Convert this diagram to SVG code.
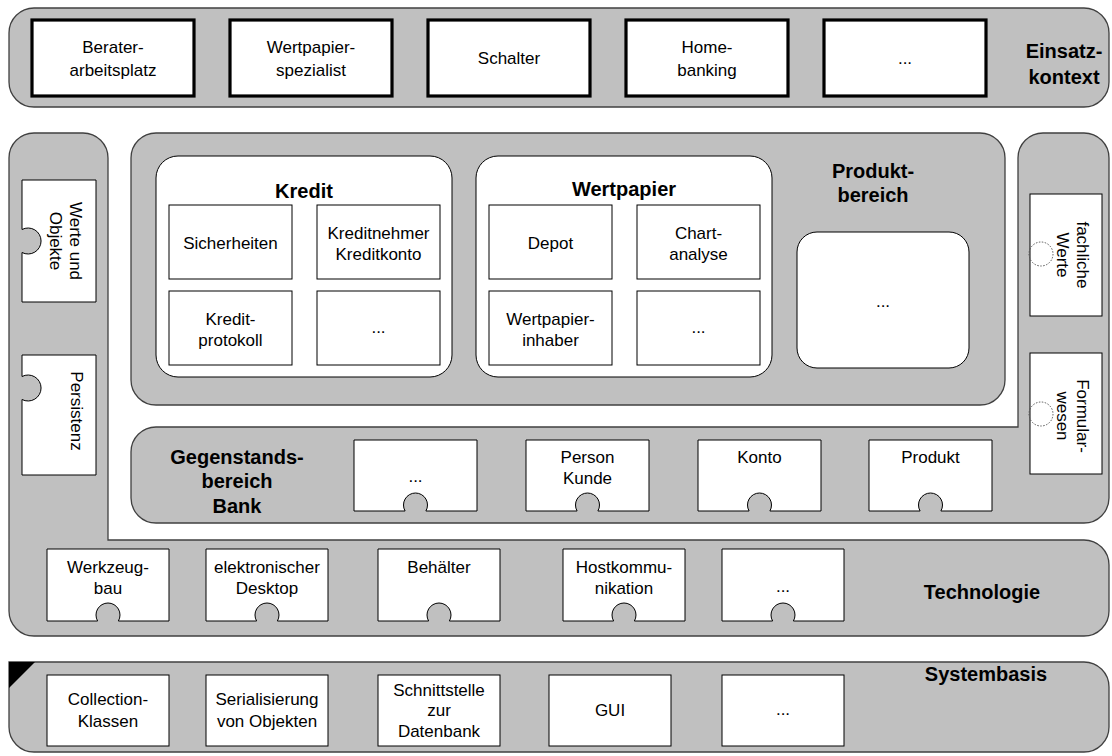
<svg xmlns="http://www.w3.org/2000/svg" width="1112" height="756" viewBox="0 0 1112 756">
  <defs>
    <style>
      .band { fill: #c0c0c0; stroke: #404040; stroke-width: 1.3; }
      .box { fill: #ffffff; stroke: #000000; stroke-width: 1; }
      .thick { fill: #ffffff; stroke: #000000; stroke-width: 3.2; }
      .group { fill: #ffffff; stroke: #000000; stroke-width: 1; }
      .dot { fill: none; stroke: #555555; stroke-width: 1; stroke-dasharray: 1.5 1.5; }
      text { font-family: "Liberation Sans", Arial, sans-serif; fill: #000000; }
      .t { font-size: 17px; text-anchor: middle; }
      .b { font-size: 20px; font-weight: bold; text-anchor: middle; }
    </style>
  </defs>

  <rect width="1112" height="756" fill="#ffffff"/>

  <!-- Einsatzkontext layer -->
  <g id="einsatzkontext">
    <rect class="band" x="9" y="8" width="1100" height="99" rx="25" ry="25"/>
    <text class="b" x="1064" y="58">Einsatz-</text>
    <text class="b" x="1064" y="84">kontext</text>
  </g>
  <g id="beraterarbeitsplatz">
    <rect class="thick" x="32" y="20" width="162" height="76"/>
    <text class="t" x="113" y="53">Berater-</text>
    <text class="t" x="113" y="76">arbeitsplatz</text>
  </g>
  <g id="wertpapierspezialist">
    <rect class="thick" x="230" y="20" width="162" height="76"/>
    <text class="t" x="311" y="53">Wertpapier-</text>
    <text class="t" x="311" y="76">spezialist</text>
  </g>
  <g id="schalter">
    <rect class="thick" x="428" y="20" width="162" height="76"/>
    <text class="t" x="509" y="64">Schalter</text>
  </g>
  <g id="homebanking">
    <rect class="thick" x="626" y="20" width="162" height="76"/>
    <text class="t" x="707" y="53">Home-</text>
    <text class="t" x="707" y="76">banking</text>
  </g>
  <g id="einsatz-weitere">
    <rect class="thick" x="824" y="20" width="162" height="76"/>
    <text class="t" x="905" y="64">...</text>
  </g>

  <!-- left column joined with the Technologie band -->
  <g id="technologie">
    <path class="band" d="M9 158 A25 25 0 0 1 34 133 L83 133 A25 25 0 0 1 108 158 L108 540 L1084 540 A25 25 0 0 1 1109 565 L1109 611 A25 25 0 0 1 1084 636 L34 636 A25 25 0 0 1 9 611 Z"/>
    <text class="b" x="982" y="599">Technologie</text>
  </g>
  <g id="werte-und-objekte">
    <path class="box" d="M22 180 H96 V302 H22 V252.5 A13 13 0 1 0 22 229.5 Z"/>
    <g transform="rotate(90 66 241)">
      <text class="t" x="66" y="237">Werte und</text>
      <text class="t" x="66" y="257">Objekte</text>
    </g>
  </g>
  <g id="persistenz">
    <path class="box" d="M22 355 H96 V475 H22 V399.5 A13 13 0 1 0 22 376.5 Z"/>
    <g transform="rotate(90 77 411)">
      <text class="t" x="77" y="417">Persistenz</text>
    </g>
  </g>

  <!-- Produktbereich -->
  <g id="produktbereich">
    <rect class="band" x="131" y="133" width="874" height="272" rx="25" ry="25"/>
    <text class="b" x="873" y="178">Produkt-</text>
    <text class="b" x="873" y="202">bereich</text>
  </g>
  <g id="kredit">
    <rect class="group" x="156" y="156" width="296" height="221" rx="22" ry="22"/>
    <text class="b" x="304" y="198">Kredit</text>
  </g>
  <g id="sicherheiten">
    <rect class="box" x="169" y="205" width="123" height="74"/>
    <text class="t" x="230.5" y="249">Sicherheiten</text>
  </g>
  <g id="kreditnehmer">
    <rect class="box" x="317" y="205" width="123" height="74"/>
    <text class="t" x="378.5" y="238.5">Kreditnehmer</text>
    <text class="t" x="378.5" y="259.5">Kreditkonto</text>
  </g>
  <g id="kreditprotokoll">
    <rect class="box" x="169" y="291" width="123" height="74"/>
    <text class="t" x="230.5" y="324.5">Kredit-</text>
    <text class="t" x="230.5" y="345.5">protokoll</text>
  </g>
  <g id="kredit-weitere">
    <rect class="box" x="317" y="291" width="123" height="74"/>
    <text class="t" x="378.5" y="333">...</text>
  </g>
  <g id="wertpapier">
    <rect class="group" x="476" y="156" width="296" height="221" rx="22" ry="22"/>
    <text class="b" x="624" y="196">Wertpapier</text>
  </g>
  <g id="depot">
    <rect class="box" x="489" y="205" width="123" height="74"/>
    <text class="t" x="550.5" y="249">Depot</text>
  </g>
  <g id="chartanalyse">
    <rect class="box" x="637" y="205" width="123" height="74"/>
    <text class="t" x="698.5" y="238.5">Chart-</text>
    <text class="t" x="698.5" y="259.5">analyse</text>
  </g>
  <g id="wertpapierinhaber">
    <rect class="box" x="489" y="291" width="123" height="74"/>
    <text class="t" x="550.5" y="324.5">Wertpapier-</text>
    <text class="t" x="550.5" y="345.5">inhaber</text>
  </g>
  <g id="wertpapier-weitere">
    <rect class="box" x="637" y="291" width="123" height="74"/>
    <text class="t" x="698.5" y="333">...</text>
  </g>
  <g id="produkt-weitere">
    <rect class="group" x="797" y="232" width="172" height="136" rx="20" ry="20"/>
    <text class="t" x="883" y="307">...</text>
  </g>

  <!-- right column joined with Gegenstandsbereich Bank -->
  <g id="gegenstandsbereich">
    <path class="band" d="M1018 158 A25 25 0 0 1 1043 133 L1084 133 A25 25 0 0 1 1109 158 L1109 498 A25 25 0 0 1 1084 523 L156 523 A25 25 0 0 1 131 498 L131 452 A25 25 0 0 1 156 427 L1018 427 Z"/>
    <text class="b" x="237" y="464">Gegenstands-</text>
    <text class="b" x="237" y="488">bereich</text>
    <text class="b" x="237" y="513">Bank</text>
  </g>
  <g id="fachliche-werte">
    <rect class="box" x="1030" y="194" width="72" height="122"/>
    <circle class="dot" cx="1041" cy="254" r="12"/>
    <g transform="rotate(90 1073 255)">
      <text class="t" x="1073" y="251">fachliche</text>
      <text class="t" x="1073" y="271">Werte</text>
    </g>
  </g>
  <g id="formularwesen">
    <rect class="box" x="1030" y="353" width="72" height="121"/>
    <circle class="dot" cx="1041" cy="414" r="12"/>
    <g transform="rotate(90 1073 416)">
      <text class="t" x="1073" y="412">Formular-</text>
      <text class="t" x="1073" y="432">wesen</text>
    </g>
  </g>
  <g id="gegenstand-weitere">
    <path class="box" d="M354 440 H477 V511 H425.9 A12 12 0 1 0 405.1 511 H354 Z"/>
    <text class="t" x="415.5" y="482">...</text>
  </g>
  <g id="person-kunde">
    <path class="box" d="M526 440 H649 V511 H597.9 A12 12 0 1 0 577.1 511 H526 Z"/>
    <text class="t" x="587.5" y="463">Person</text>
    <text class="t" x="587.5" y="484">Kunde</text>
  </g>
  <g id="konto">
    <path class="box" d="M698 440 H821 V511 H769.9 A12 12 0 1 0 749.1 511 H698 Z"/>
    <text class="t" x="759.5" y="463">Konto</text>
  </g>
  <g id="produkt">
    <path class="box" d="M869 440 H992 V511 H940.9 A12 12 0 1 0 920.1 511 H869 Z"/>
    <text class="t" x="930.5" y="463">Produkt</text>
  </g>

  <!-- Technologie components -->
  <g id="werkzeugbau">
    <path class="box" d="M47 549 H169 V621 H118.4 A12 12 0 1 0 97.6 621 H47 Z"/>
    <text class="t" x="108" y="573">Werkzeug-</text>
    <text class="t" x="108" y="594">bau</text>
  </g>
  <g id="elektronischer-desktop">
    <path class="box" d="M206 549 H328 V621 H277.4 A12 12 0 1 0 256.6 621 H206 Z"/>
    <text class="t" x="267" y="573">elektronischer</text>
    <text class="t" x="267" y="594">Desktop</text>
  </g>
  <g id="behaelter">
    <path class="box" d="M378 549 H500 V621 H449.4 A12 12 0 1 0 428.6 621 H378 Z"/>
    <text class="t" x="439" y="573">Behälter</text>
  </g>
  <g id="hostkommunikation">
    <path class="box" d="M563 549 H685 V621 H634.4 A12 12 0 1 0 613.6 621 H563 Z"/>
    <text class="t" x="624" y="573">Hostkommu-</text>
    <text class="t" x="624" y="594">nikation</text>
  </g>
  <g id="technologie-weitere">
    <path class="box" d="M722 549 H844 V621 H793.4 A12 12 0 1 0 772.6 621 H722 Z"/>
    <text class="t" x="783" y="592">...</text>
  </g>

  <!-- Systembasis layer -->
  <g id="systembasis">
    <path class="band" d="M9 662 L1084 662 A25 25 0 0 1 1109 687 L1109 727 A25 25 0 0 1 1084 752 L34 752 A25 25 0 0 1 9 727 Z"/>
    <path d="M9 662 L35 662 L9 688 Z" fill="#000000"/>
    <text class="b" x="986" y="681">Systembasis</text>
  </g>
  <g id="collection-klassen">
    <rect class="box" x="47" y="675" width="122" height="71"/>
    <text class="t" x="108" y="705">Collection-</text>
    <text class="t" x="108" y="727">Klassen</text>
  </g>
  <g id="serialisierung">
    <rect class="box" x="206" y="675" width="122" height="71"/>
    <text class="t" x="267" y="705">Serialisierung</text>
    <text class="t" x="267" y="727">von Objekten</text>
  </g>
  <g id="schnittstelle-datenbank">
    <rect class="box" x="378" y="675" width="122" height="71"/>
    <text class="t" x="439" y="696">Schnittstelle</text>
    <text class="t" x="439" y="716">zur</text>
    <text class="t" x="439" y="737">Datenbank</text>
  </g>
  <g id="gui">
    <rect class="box" x="549" y="675" width="122" height="71"/>
    <text class="t" x="610" y="716">GUI</text>
  </g>
  <g id="systembasis-weitere">
    <rect class="box" x="722" y="675" width="122" height="71"/>
    <text class="t" x="783" y="715">...</text>
  </g>

  <!-- no connectors in this layer diagram -->
  <g id="connectors"/>
</svg>
